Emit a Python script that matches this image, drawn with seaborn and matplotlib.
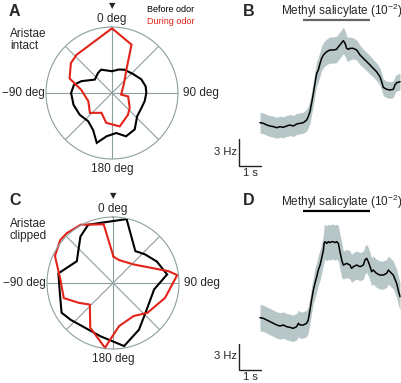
import numpy as np
import matplotlib
matplotlib.use("Agg")
import matplotlib.pyplot as plt
import seaborn as sns

# polar tuning curves: angle (deg, clockwise from front) and normalised response
a_before_ang = [0, 16, 28, 48, 65, 79, 90, 104, 117, 133, 148, 162, 174, 187, 197, 207, 220, 236, 253, 270, 282, 291, 308, 325, 335]
a_before_r = [.33, .37, .40, .43, .49, .52, .52, .51, .50, .52, .65, .69, .61, .66, .79, .63, .56, .59, .61, .62, .59, .50, .33, .37, .39]
a_during_ang = [0, 22, 32, 54, 100, 102, 130, 144, 167, 191, 208, 228, 251, 276, 289, 306, 317]
a_during_r = [.98, .79, .41, .22, .14, .25, .35, .41, .52, .46, .34, .45, .38, .47, .68, .77, .79]

c_before_ang = [12, 35, 48, 64, 81, 99, 114, 133, 151, 170, 193, 229, 240, 259, 280, 301, 325, 337]
c_before_r = [.99, .59, .65, .74, .83, .63, .62, .67, .81, .97, .83, .85, .90, .82, .84, .64, .86, .96]
c_during_ang = [1, 14, 48, 78, 83, 106, 131, 148, 172, 184, 187, 207, 227, 240, 253, 274, 295, 309, 317, 331, 351]
c_during_r = [.40, .36, .42, .86, .98, .82, .69, .59, .66, .89, .99, .76, .48, .60, .78, .80, .97, 1.03, 1.03, 1.01, .90]

# firing rate traces (s, Hz) with s.e.m.
b_time = [0, .15, .30, .45, .60, .75, .90, 1.04, 1.19, 1.34, 1.49, 1.64, 1.79, 1.94, 2.09, 2.16, 2.24, 2.31,
          2.39, 2.46, 2.54, 2.61, 2.69, 2.76, 2.84, 2.91, 2.99, 3.13, 3.28, 3.43, 3.51, 3.58, 3.66, 3.73, 3.81,
          3.88, 3.96, 4.03, 4.18, 4.33, 4.48, 4.63, 4.78, 4.93, 5.07, 5.22, 5.37, 5.45, 5.52, 5.67, 5.82, 5.97,
          6.04, 6.12, 6.27]
b_rate = [5.01, 4.94, 4.75, 4.63, 4.56, 4.44, 4.56, 4.48, 4.63, 4.75, 4.63, 4.86, 4.94, 5.01, 5.32, 5.70, 6.27,
          7.22, 8.36, 9.49, 10.63, 11.01, 11.77, 12.34, 12.72, 12.91, 13.10, 13.29, 13.29, 13.37, 13.67, 13.86,
          14.13, 14.36, 14.05, 13.48, 13.37, 13.48, 13.48, 13.29, 12.72, 12.34, 11.96, 11.58, 11.20, 10.82,
          10.25, 9.68, 9.04, 8.81, 8.74, 8.81, 9.30, 9.57, 9.68]
b_sem = [1.18, 1.18, 1.18, 1.2, 1.2, 1.2, 1.2, 1.2, 1.2, 1.2, 1.2, 1.2, 1.2, 1.2, 1.25, 1.25, 1.3, 1.3,
         1.35, 1.35, 1.4, 1.4, 1.4, 1.4, 1.45, 1.45, 1.45, 1.5, 1.5, 1.5, 1.5, 1.5, 1.5, 1.5, 1.45,
         1.4, 1.35, 1.3, 1.2, 1.15, 1.1, 1.05, 1.05, 1.05, 1.0, 1.0, 1.0, 0.95, 0.95, 0.95, 0.95, 0.95,
         0.95, 0.95, 0.95]

d_time = [0, .15, .30, .45, .60, .75, .90, 1.04, 1.19, 1.34, 1.49, 1.64, 1.72, 1.79, 1.94, 2.09, 2.16, 2.24,
          2.31, 2.39, 2.46, 2.54, 2.61, 2.69, 2.76, 2.84, 2.87, 2.91, 2.99, 3.06, 3.13, 3.21, 3.28, 3.36,
          3.43, 3.51, 3.58, 3.66, 3.73, 3.88, 4.03, 4.10, 4.18, 4.33, 4.48, 4.63, 4.70, 4.78, 4.85, 4.93,
          5.00, 5.07, 5.22, 5.37, 5.52, 5.67, 5.75, 5.82, 5.97, 6.12, 6.19, 6.27]
d_rate = [5.96, 5.89, 5.70, 5.51, 5.32, 5.13, 5.01, 5.13, 4.94, 4.86, 4.75, 4.94, 5.32, 5.13, 5.13, 5.32,
          5.70, 6.84, 7.98, 9.12, 9.87, 10.63, 11.39, 11.96, 12.72, 13.67, 14.43, 14.62, 14.43, 14.62, 14.51,
          14.62, 14.62, 14.51, 14.62, 14.43, 13.48, 12.53, 11.96, 12.15, 11.96, 11.58, 11.77, 11.96, 11.77,
          11.96, 12.53, 12.72, 12.34, 11.77, 11.20, 11.39, 11.01, 10.82, 10.82, 11.01, 11.39, 11.20, 10.82,
          9.87, 9.12, 8.36]
d_sem = [1.5] * 12 + [1.5] * 8 + [1.7] * 6 + [2.0] * 12 + [1.6] * 24

odor_on, odor_off = 1.93, 4.93

sns.set_theme(style="white")
plt.rcParams["font.family"] = ["Liberation Sans", "DejaVu Sans"]
plt.rcParams["mathtext.fontset"] = "custom"
plt.rcParams["mathtext.rm"] = "Liberation Sans"
plt.rcParams["mathtext.it"] = "Liberation Sans"

W, H = 402, 383
fig = plt.figure(figsize=(W / 100, H / 100), dpi=100)
RED = "#e2231a"
GRID = "#8e9e9e"
BAND = "#b7c7c7"


def fx(px):
    return px / W


def fy(py):
    return 1 - py / H


def polar_panel(cx, cy, before_ang, before_r, during_ang, during_r):
    R = 66
    ax = fig.add_axes([fx(cx - R), fy(cy + R), 2 * R / W, 2 * R / H], projection="polar")
    ax.set_theta_zero_location("N")
    ax.set_theta_direction(-1)
    ax.set_ylim(0, 1)
    ax.set_yticks([])
    ax.set_xticks(np.deg2rad(np.arange(0, 360, 45)))
    ax.set_xticklabels([])
    ax.grid(True, axis="x", color=GRID, lw=0.8)
    ax.spines["polar"].set_color(GRID)
    ax.spines["polar"].set_linewidth(0.8)
    ax.set_facecolor("none")
    for ang, r, col in [(before_ang, before_r, "black"), (during_ang, during_r, RED)]:
        th = np.deg2rad(np.append(ang, ang[0]))
        rr = np.append(r, r[0])
        ax.plot(th, rr, color=col, lw=1.5, clip_on=False, solid_joinstyle="miter")
    kw = dict(fontsize=8.5, clip_on=False)
    ax.text(0, 1.03, "0 deg", ha="center", va="bottom", **kw)
    ax.text(np.pi, 1.06, "180 deg", ha="center", va="top", **kw)
    ax.text(np.pi / 2, 1.07, "90 deg", ha="left", va="center", **kw)
    ax.text(-np.pi / 2, 1.02, "\u221290 deg", ha="right", va="center", **kw)
    fig.text(fx(cx), fy(cy - 87), "\u25bc", ha="center", va="center", fontsize=6,
             family="DejaVu Sans")
    return ax


def trace_panel(top, bottom, ylim, t, rate, sem, bar_y, txt_y, bar_col, sb_y0):
    ax = fig.add_axes([fx(233.2), fy(bottom), (401.8 - 233.2) / W, (bottom - top) / H])
    ax.set_xlim(-1.2, 6.35)
    ax.set_ylim(*ylim)
    ax.axis("off")
    t = np.array(t)
    rate = np.array(rate)
    sem = np.array(sem)
    ax.fill_between(t, rate - sem, rate + sem, color=BAND, lw=0)
    sns.lineplot(x=t, y=rate, color="black", lw=1.1, ax=ax)
    ax.plot([odor_on, odor_off], [bar_y, bar_y], color=bar_col, lw=1.6, clip_on=False,
            solid_capstyle="butt")
    ax.text(6.38, txt_y, "Methyl salicylate (10$^{-2}$)", ha="right", va="center",
            fontsize=8.5, clip_on=False)
    # scale bars: 3 Hz and 1 s
    ax.plot([-0.94, -0.94, 0.06], [sb_y0 + 3, sb_y0, sb_y0], color="#222222", lw=1.0,
            clip_on=False, solid_joinstyle="miter")
    ax.text(-1.02, sb_y0 + 1.6, "3 Hz", ha="right", va="center", fontsize=8)
    ax.text(-0.44, sb_y0 - 0.2, "1 s", ha="center", va="top", fontsize=8)
    return ax


polar_panel(112, 93, a_before_ang, a_before_r, a_during_ang, a_during_r)
polar_panel(113, 283, c_before_ang, c_before_r, c_during_ang, c_during_r)

trace_panel(5, 175, (-0.95, 18.42), b_time, b_rate, b_sem, 16.7, 17.7, "#666666", 0.1)
trace_panel(195, 378, (-0.91, 19.94), d_time, d_rate, d_sem, 18.1, 19.1, "black", 0.0)

# panel letters and annotations
for lab, x, y in [("A", 9, 11), ("B", 243, 11), ("C", 9, 201), ("D", 243, 201)]:
    fig.text(fx(x), fy(y), lab, fontsize=11.5, fontweight="bold", va="center", ha="left")

fig.text(fx(10), fy(28), "Aristae\nintact", fontsize=8.5, va="top", ha="left", linespacing=1.05)
fig.text(fx(10), fy(218), "Aristae\nclipped", fontsize=8.5, va="top", ha="left", linespacing=1.05)
fig.text(fx(147), fy(10), "Before odor", fontsize=6.5, va="center", ha="left", color="black")
fig.text(fx(147), fy(22), "During odor", fontsize=6.5, va="center", ha="left", color=RED)

fig.savefig("out.png", dpi=100)
